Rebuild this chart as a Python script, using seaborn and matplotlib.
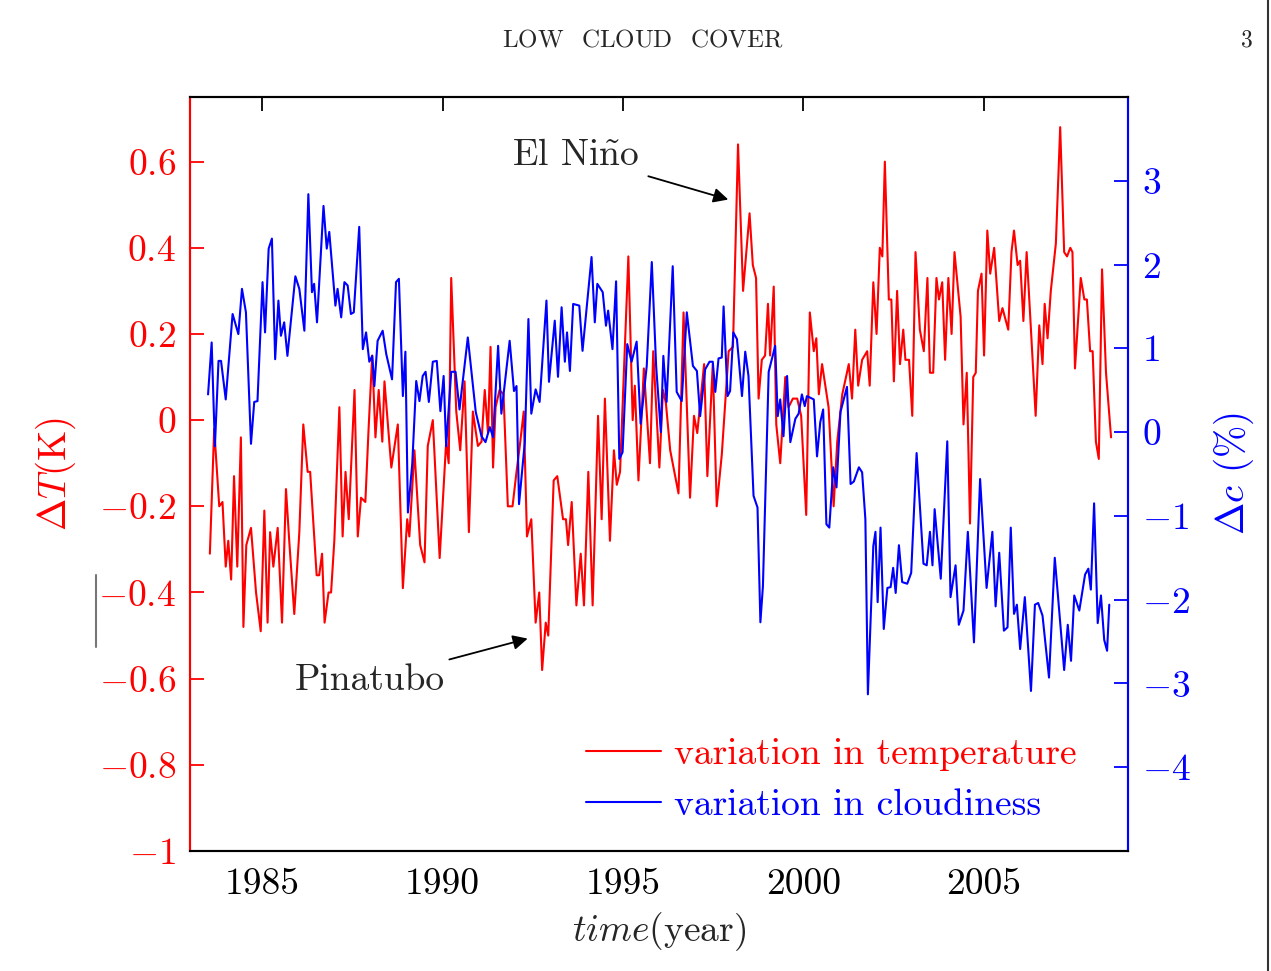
"""Low cloud cover vs. temperature anomaly, 1983-2008."""

import matplotlib

matplotlib.use("Agg")

import matplotlib.pyplot as plt
import seaborn as sns
from matplotlib.lines import Line2D

# temperature anomaly (K)
temp_year = [
    1983.55, 1983.67, 1983.81, 1983.90, 1983.99, 1984.06, 1984.14, 1984.22, 1984.31, 1984.41,
    1984.48, 1984.56, 1984.69, 1984.83, 1984.96, 1985.06, 1985.15, 1985.22, 1985.31, 1985.43,
    1985.55, 1985.66, 1985.75, 1985.89, 1986.03, 1986.14, 1986.26, 1986.33, 1986.51, 1986.58,
    1986.66, 1986.73, 1986.84, 1986.91, 1987.00, 1987.14, 1987.23, 1987.31, 1987.40, 1987.56,
    1987.65, 1987.74, 1987.86, 1987.95, 1988.05, 1988.14, 1988.23, 1988.33, 1988.39, 1988.58,
    1988.76, 1988.90, 1989.02, 1989.08, 1989.22, 1989.38, 1989.50, 1989.59, 1989.73, 1989.92,
    1990.10, 1990.17, 1990.24, 1990.38, 1990.49, 1990.61, 1990.73, 1990.84, 1990.98, 1991.08,
    1991.17, 1991.26, 1991.33, 1991.40, 1991.47, 1991.58, 1991.69, 1991.81, 1991.94, 1992.05,
    1992.14, 1992.25, 1992.34, 1992.46, 1992.58, 1992.68, 1992.76, 1992.86, 1992.93, 1993.08,
    1993.18, 1993.34, 1993.42, 1993.48, 1993.58, 1993.71, 1993.83, 1993.92, 1994.04, 1994.16,
    1994.31, 1994.41, 1994.50, 1994.64, 1994.75, 1994.83, 1994.92, 1995.15, 1995.27, 1995.33,
    1995.43, 1995.58, 1995.75, 1995.84, 1996.01, 1996.11, 1996.19, 1996.31, 1996.54, 1996.68,
    1996.86, 1996.97, 1997.06, 1997.25, 1997.34, 1997.49, 1997.60, 1997.74, 1997.93, 1998.05,
    1998.19, 1998.33, 1998.51, 1998.60, 1998.69, 1998.76, 1998.85, 1998.94, 1999.02, 1999.08,
    1999.18, 1999.25, 1999.36, 1999.50, 1999.59, 1999.71, 1999.83, 1999.94, 2000.08, 2000.18,
    2000.29, 2000.36, 2000.43, 2000.52, 2000.70, 2000.84, 2000.94, 2001.08, 2001.26, 2001.35,
    2001.44, 2001.52, 2001.63, 2001.77, 2001.84, 2001.94, 2002.03, 2002.12, 2002.19, 2002.26,
    2002.37, 2002.44, 2002.51, 2002.60, 2002.68, 2002.77, 2002.83, 2002.93, 2003.02, 2003.11,
    2003.23, 2003.34, 2003.44, 2003.51, 2003.60, 2003.69, 2003.76, 2003.85, 2003.93, 2004.02,
    2004.11, 2004.19, 2004.36, 2004.44, 2004.53, 2004.62, 2004.71, 2004.78, 2004.84, 2004.94,
    2005.01, 2005.10, 2005.18, 2005.29, 2005.43, 2005.52, 2005.68, 2005.77, 2005.84, 2005.94,
    2006.01, 2006.10, 2006.19, 2006.29, 2006.44, 2006.54, 2006.63, 2006.69, 2006.77, 2006.86,
    2007.00, 2007.12, 2007.23, 2007.31, 2007.40, 2007.46, 2007.53, 2007.69, 2007.79, 2007.86,
    2007.95, 2008.02, 2008.11, 2008.19, 2008.28, 2008.39, 2008.53,
]
temp_val = [
    -0.31, -0.02, -0.20, -0.19, -0.34, -0.28, -0.37, -0.13, -0.34, -0.04,
    -0.48, -0.29, -0.25, -0.40, -0.49, -0.21, -0.47, -0.26, -0.34, -0.25,
    -0.47, -0.16, -0.28, -0.45, -0.26, -0.01, -0.12, -0.12, -0.36, -0.36,
    -0.31, -0.47, -0.40, -0.40, -0.28, 0.03, -0.27, -0.12, -0.23, 0.07,
    -0.27, -0.18, -0.19, -0.02, 0.15, -0.04, 0.07, -0.05, 0.09, -0.11,
    -0.01, -0.39, -0.23, -0.27, -0.07, -0.29, -0.33, -0.06, 0.00, -0.32,
    -0.05, -0.10, 0.33, 0.02, -0.07, 0.09, -0.26, 0.02, -0.06, -0.05,
    0.07, -0.03, 0.17, -0.11, 0.03, 0.07, 0.06, -0.20, -0.20, -0.12,
    -0.06, 0.02, -0.27, -0.23, -0.47, -0.40, -0.58, -0.47, -0.50, -0.14,
    -0.13, -0.23, -0.23, -0.29, -0.19, -0.43, -0.31, -0.43, -0.12, -0.43,
    0.01, -0.23, 0.05, -0.28, -0.07, -0.15, -0.12, 0.38, 0.00, 0.08,
    -0.14, 0.12, -0.10, 0.16, -0.11, 0.07, 0.04, -0.07, -0.17, 0.25,
    -0.18, 0.01, -0.03, 0.13, -0.13, 0.13, -0.20, -0.08, 0.16, 0.17,
    0.64, 0.30, 0.48, 0.36, 0.33, 0.05, 0.14, 0.15, 0.27, 0.15,
    0.31, -0.01, -0.10, 0.10, 0.03, 0.05, 0.05, 0.01, -0.22, 0.25,
    0.16, 0.19, 0.06, 0.13, 0.03, -0.20, -0.05, 0.06, 0.13, 0.05,
    0.21, 0.08, 0.14, 0.16, 0.08, 0.32, 0.20, 0.40, 0.38, 0.60,
    0.28, 0.28, 0.09, 0.30, 0.13, 0.21, 0.14, 0.14, 0.01, 0.39,
    0.21, 0.16, 0.33, 0.11, 0.11, 0.33, 0.28, 0.32, 0.14, 0.33,
    0.20, 0.39, 0.24, -0.01, 0.11, -0.24, 0.10, 0.11, 0.30, 0.34,
    0.15, 0.44, 0.34, 0.40, 0.23, 0.26, 0.21, 0.39, 0.44, 0.36,
    0.37, 0.23, 0.39, 0.24, 0.01, 0.22, 0.13, 0.27, 0.19, 0.30,
    0.41, 0.68, 0.39, 0.38, 0.40, 0.39, 0.12, 0.33, 0.28, 0.28,
    0.16, 0.16, -0.05, -0.09, 0.35, 0.11, -0.04,
]

# low cloud cover anomaly (%)
cloud_year = [
    1983.50, 1983.60, 1983.69, 1983.79, 1983.86, 1983.99, 1984.18, 1984.34, 1984.44, 1984.55,
    1984.69, 1984.78, 1984.87, 1985.01, 1985.08, 1985.18, 1985.27, 1985.36, 1985.45, 1985.52,
    1985.61, 1985.70, 1985.92, 1986.03, 1986.17, 1986.28, 1986.38, 1986.44, 1986.52, 1986.70,
    1986.79, 1986.86, 1987.03, 1987.09, 1987.19, 1987.28, 1987.37, 1987.46, 1987.54, 1987.69,
    1987.79, 1987.88, 1987.97, 1988.05, 1988.11, 1988.20, 1988.34, 1988.44, 1988.60, 1988.71,
    1988.79, 1988.90, 1988.97, 1989.04, 1989.16, 1989.27, 1989.36, 1989.45, 1989.53, 1989.62,
    1989.73, 1989.84, 1989.94, 1990.03, 1990.10, 1990.24, 1990.36, 1990.47, 1990.70, 1990.92,
    1991.08, 1991.19, 1991.31, 1991.40, 1991.54, 1991.63, 1991.86, 1991.98, 1992.05, 1992.12,
    1992.28, 1992.38, 1992.46, 1992.58, 1992.69, 1992.88, 1992.95, 1993.11, 1993.20, 1993.30,
    1993.39, 1993.45, 1993.53, 1993.62, 1993.79, 1993.88, 1994.13, 1994.22, 1994.29, 1994.44,
    1994.53, 1994.59, 1994.71, 1994.81, 1994.90, 1994.99, 1995.12, 1995.24, 1995.38, 1995.49,
    1995.66, 1995.80, 1995.92, 1996.05, 1996.12, 1996.21, 1996.38, 1996.49, 1996.63, 1996.77,
    1996.94, 1997.05, 1997.14, 1997.28, 1997.40, 1997.49, 1997.56, 1997.65, 1997.74, 1997.79,
    1997.90, 1997.97, 1998.06, 1998.16, 1998.30, 1998.39, 1998.48, 1998.62, 1998.73, 1998.81,
    1998.88, 1999.04, 1999.22, 1999.29, 1999.36, 1999.45, 1999.55, 1999.64, 1999.78, 1999.87,
    1999.96, 2000.04, 2000.10, 2000.29, 2000.38, 2000.47, 2000.55, 2000.64, 2000.72, 2000.83,
    2000.92, 2001.03, 2001.21, 2001.31, 2001.40, 2001.54, 2001.63, 2001.72, 2001.79, 2001.94,
    2002.00, 2002.06, 2002.14, 2002.23, 2002.33, 2002.42, 2002.49, 2002.56, 2002.65, 2002.74,
    2002.88, 2002.99, 2003.14, 2003.33, 2003.42, 2003.51, 2003.58, 2003.64, 2003.81, 2003.99,
    2004.08, 2004.22, 2004.31, 2004.44, 2004.56, 2004.73, 2004.90, 2005.08, 2005.24, 2005.33,
    2005.43, 2005.56, 2005.66, 2005.75, 2005.84, 2005.92, 2006.01, 2006.14, 2006.31, 2006.42,
    2006.51, 2006.63, 2006.81, 2006.97, 2007.23, 2007.33, 2007.42, 2007.51, 2007.65, 2007.81,
    2007.90, 2007.97, 2008.06, 2008.16, 2008.25, 2008.34, 2008.42, 2008.48,
]
cloud_val = [
    0.45, 1.07, -0.17, 0.85, 0.85, 0.39, 1.41, 1.17, 1.71, 1.43,
    -0.14, 0.36, 0.37, 1.79, 1.19, 2.19, 2.31, 0.87, 1.57, 1.15,
    1.31, 0.91, 1.86, 1.71, 1.21, 2.84, 1.67, 1.77, 1.31, 2.70,
    2.19, 2.39, 1.51, 1.71, 1.37, 1.79, 1.75, 1.41, 1.43, 2.45,
    0.99, 1.19, 0.84, 0.91, 0.55, 1.09, 1.21, 0.93, 0.63, 1.79,
    1.83, 0.43, 0.96, -0.96, -0.38, 0.61, 0.37, 0.67, 0.72, 0.36,
    0.84, 0.85, 0.25, 0.67, -0.17, 0.72, 0.72, 0.27, 1.13, 0.24,
    -0.05, -0.12, 0.06, -0.06, 1.03, 0.22, 1.09, 0.49, 0.55, -0.86,
    -0.12, 1.35, 0.22, 0.51, 0.36, 1.57, 0.60, 1.33, 0.66, 1.49,
    0.84, 1.19, 0.73, 1.53, 1.51, 0.97, 2.09, 1.31, 1.77, 1.67,
    1.27, 1.45, 0.99, 1.80, -0.32, -0.24, 1.05, 0.84, 1.08, 0.10,
    0.79, 2.03, 0.79, 0.00, 0.91, 0.36, 1.98, 0.48, 0.37, 1.43,
    0.79, 0.73, 0.19, 0.75, 0.84, 0.84, 0.48, 0.88, 0.89, 1.50,
    0.43, 0.49, 1.19, 1.11, 0.43, 0.96, 0.67, -0.76, -0.90, -2.27,
    -1.84, 0.72, 1.03, 0.19, 0.39, -0.05, 0.67, -0.12, 0.16, 0.22,
    0.45, 0.31, 0.43, 0.39, -0.29, 0.12, 0.27, -1.10, -1.14, -0.42,
    -0.66, 0.24, 0.54, -0.62, -0.59, -0.42, -0.48, -1.04, -3.13, -1.36,
    -1.19, -2.03, -1.14, -2.35, -1.86, -1.85, -1.62, -1.92, -1.35, -1.79,
    -1.81, -1.68, -0.25, -1.57, -1.59, -1.19, -1.59, -0.92, -1.75, -0.11,
    -1.97, -1.59, -2.30, -2.13, -1.19, -2.51, -0.56, -1.86, -1.19, -2.08,
    -1.44, -2.37, -2.33, -1.14, -2.17, -2.06, -2.59, -1.97, -3.09, -2.06,
    -2.04, -2.19, -2.93, -1.50, -2.84, -2.30, -2.73, -1.95, -2.13, -1.70,
    -1.63, -1.88, -0.85, -2.28, -1.95, -2.48, -2.61, -2.06,
]

year_ticks = [1985, 1990, 1995, 2000, 2005]
temp_ticks = [-1.0, -0.8, -0.6, -0.4, -0.2, 0.0, 0.2, 0.4, 0.6]
cloud_ticks = [-4, -3, -2, -1, 0, 1, 2, 3]

TEMP_COLOR = "#ff0000"
CLOUD_COLOR = "#0000ff"
FS = 27


def plot_cloud_cover(output_path: str = "out.png") -> None:
    sns.set_theme(style="white")
    plt.rcParams["font.family"] = "serif"
    plt.rcParams["font.serif"] = ["cmr10", "DejaVu Serif"]
    plt.rcParams["mathtext.fontset"] = "cm"
    plt.rcParams["axes.formatter.use_mathtext"] = True
    plt.rcParams["axes.unicode_minus"] = True

    fig = plt.figure(figsize=(12.71, 9.71), dpi=100)
    ax = fig.add_axes([0.1495, 0.1236, 0.7380, 0.7765])
    ax2 = ax.twinx()

    sns.lineplot(x=temp_year, y=temp_val, ax=ax, color=TEMP_COLOR, lw=1.5,
                 estimator=None, sort=False, label="variation in temperature", legend=False)
    sns.lineplot(x=cloud_year, y=cloud_val, ax=ax2, color=CLOUD_COLOR, lw=1.5,
                 estimator=None, sort=False, label="variation in cloudiness", legend=False)

    ax.set_xlim(1983, 2009)
    ax.set_ylim(-1, 0.75)
    ax2.set_ylim(-5, 4)

    ax.set_xticks(year_ticks)
    ax.set_xticklabels([str(y) for y in year_ticks])
    ax.set_yticks(temp_ticks)
    ax.set_yticklabels([f"${v:g}$" for v in temp_ticks])
    ax2.set_yticks(cloud_ticks)
    ax2.set_yticklabels([f"${v}$" for v in cloud_ticks])

    ax.tick_params(axis="x", direction="in", top=True, length=10, width=1.3,
                   labelsize=FS, colors="black", pad=12)
    ax.tick_params(axis="y", direction="in", length=10, width=1.3, labelsize=FS,
                   colors=TEMP_COLOR, pad=10)
    ax2.tick_params(axis="y", direction="in", length=10, width=1.3, labelsize=FS,
                    colors=CLOUD_COLOR, pad=10)

    for a in (ax, ax2):
        a.spines["top"].set_color("black")
        a.spines["bottom"].set_color("black")
        a.spines["left"].set_color(TEMP_COLOR)
        a.spines["right"].set_color(CLOUD_COLOR)
        for s in a.spines.values():
            s.set_linewidth(1.5)
    ax.grid(False)
    ax2.grid(False)

    ax.set_xlabel(r"$time$(year)", fontsize=FS)
    ax.set_ylabel(r"$\Delta T$(K)", fontsize=FS + 1, color=TEMP_COLOR)
    ax2.set_ylabel(r"$\Delta c$ (%)", fontsize=FS + 1, color=CLOUD_COLOR)
    ax.xaxis.set_label_coords(0.5, -0.079)
    ax.yaxis.set_label_coords(-0.119, 0.5)
    ax2.yaxis.set_label_coords(1.0896, 0.5)

    arrow = dict(arrowstyle="-|>", color="black", lw=1.3, mutation_scale=22,
                 shrinkA=4, shrinkB=0)
    ax.annotate(r"El Ni$\tilde{\mathrm{n}}$o", xy=(1997.92, 0.512), xytext=(1993.7, 0.615),
                fontsize=FS, ha="center", va="center", arrowprops=arrow)
    ax.annotate("Pinatubo", xy=(1992.36, -0.507), xytext=(1987.97, -0.605),
                fontsize=FS, ha="center", va="center", arrowprops=arrow)

    handles = ax.get_lines()[:1] + ax2.get_lines()[:1]
    ax2.legend(handles=handles, labels=[h.get_label() for h in handles],
               loc="upper left", bbox_to_anchor=(0.406, 0.170), frameon=False,
               fontsize=FS, labelcolor="linecolor", handlelength=2.0,
               handletextpad=0.35, labelspacing=0.47, borderaxespad=0)

    header = r"$\mathrm{LOW\;\;\;CLOUD\;\;\;COVER}$"
    fig.text(0.506, 0.958, header, fontsize=18, ha="center", va="center")
    fig.text(0.981, 0.958, "3", fontsize=17, ha="center", va="center")
    fig.add_artist(Line2D([0.0755, 0.0755], [0.334, 0.408], color="#777777", lw=1.5))
    fig.add_artist(Line2D([0.9975, 0.9975], [0.0, 1.0], color="#333333", lw=1.5))

    fig.savefig(output_path, dpi=100)
    plt.close(fig)


if __name__ == "__main__":
    plot_cloud_cover()
